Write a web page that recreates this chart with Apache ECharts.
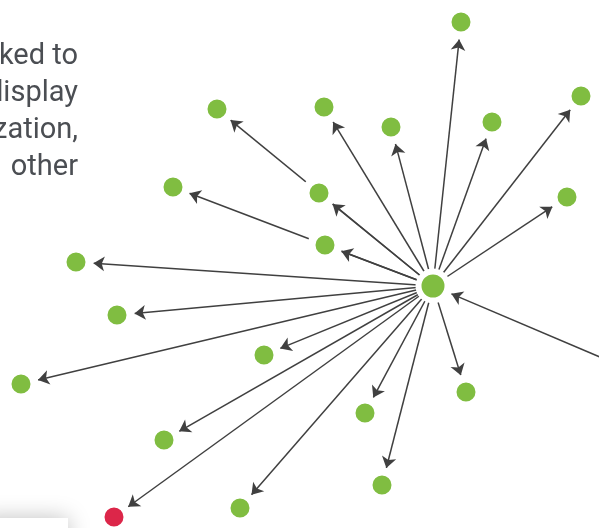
<!DOCTYPE html>
<html>
<head>
    <meta charset="utf-8">
    <title>graph</title>
    <script src="https://cdn.jsdelivr.net/npm/echarts@6/dist/echarts.min.js"></script>
    <style>
        html, body { margin: 0; padding: 0; background: #fff; }
        #chart1 { width: 599px; height: 528px; }
    </style>
</head>
<body>
<div id="chart1"></div>
<script type="text/javascript">

    // ------ data ------
    var nodeNames = ['hub', 'n1', 'n2', 'n3', 'n4', 'n5', 'n6', 'n7', 'n8', 'n9', 'n10',
        'n11', 'n12', 'n13', 'n14', 'n15', 'n16', 'n17', 'n18', 'n19', 'n20', 'ext'];
    var nodeX = [433, 461, 324, 391, 492, 581, 319, 567, 325, 217, 173,
        76, 117, 264, 21, 164, 114, 240, 466, 365, 382, 640];
    var nodeY = [286, 22, 107, 127, 122, 96, 193, 197, 245, 109, 187,
        262, 315, 355, 384, 440, 517, 508, 392, 413, 485, 374];
    var nodeKind = ['hub', 'ok', 'ok', 'ok', 'ok', 'ok', 'ok', 'ok', 'ok', 'ok', 'ok',
        'ok', 'ok', 'ok', 'ok', 'ok', 'alert', 'ok', 'ok', 'ok', 'ok', 'ok'];

    // hub points to every dot, one outside dot points back to the hub
    var edgeSource = ['hub', 'hub', 'hub', 'hub', 'hub', 'hub', 'hub', 'hub', 'hub', 'hub',
        'hub', 'hub', 'hub', 'hub', 'hub', 'hub', 'hub', 'hub', 'hub', 'hub', 'ext'];
    var edgeTarget = ['n1', 'n2', 'n3', 'n4', 'n5', 'n6', 'n7', 'n8', 'n9', 'n10',
        'n11', 'n12', 'n13', 'n14', 'n15', 'n16', 'n17', 'n18', 'n19', 'n20', 'hub'];

    var textLines = ['ked to', 'display', 'zation,', 'other'];

    // ------ styles ------
    var GREEN = '#80bd41';
    var RED = '#dc2649';
    // circle with padding inside its box, so arrow tips stop short of the dot
    var dotPath = 'path://M0 0M35 35M4 17.5A13.5 13.5 0 1 1 31 17.5A13.5 13.5 0 1 1 4 17.5Z';
    var hubPath = 'path://M0 0M40 40M5.5 20A14.5 14.5 0 1 1 34.5 20A14.5 14.5 0 1 1 5.5 20Z';

    var nodes = nodeNames.map(function (name, i) {
        var isHub = nodeKind[i] === 'hub';
        return {
            name: name,
            x: nodeX[i],
            y: nodeY[i],
            symbol: isHub ? hubPath : dotPath,
            symbolSize: isHub ? 40 : 35,
            itemStyle: {
                color: nodeKind[i] === 'alert' ? RED : GREEN,
                borderColor: '#fff',
                borderWidth: isHub ? 6 : 8
            }
        };
    });

    var links = edgeSource.map(function (s, i) {
        return {source: s, target: edgeTarget[i]};
    });

    var minX = Math.min.apply(null, nodeX), maxX = Math.max.apply(null, nodeX);
    var minY = Math.min.apply(null, nodeY), maxY = Math.max.apply(null, nodeY);

    var myChart1 = echarts.init(document.getElementById('chart1'));
    myChart1.setOption({
        animation: false,
        graphic: [
            {
                type: 'text',
                style: {
                    text: textLines.join('\n'),
                    x: 78,
                    y: 38,
                    align: 'right',
                    verticalAlign: 'top',
                    lineHeight: 37,
                    font: '400 29px Roboto',
                    fill: '#4b4e53'
                }
            },
            {
                // white card peeking in at the bottom-left
                type: 'rect',
                shape: {x: -20, y: 518, width: 88, height: 40},
                style: {
                    fill: '#fff',
                    shadowBlur: 22,
                    shadowColor: 'rgba(0,0,0,0.25)'
                }
            }
        ],
        series: [
            {
                type: 'graph',
                layout: 'none',
                left: minX,
                top: minY,
                width: maxX - minX,
                height: maxY - minY,
                roam: false,
                silent: true,
                data: nodes,
                links: links,
                edgeSymbol: ['none', 'arrow'],
                edgeSymbolSize: 11,
                lineStyle: {
                    color: '#404040',
                    width: 1.5,
                    opacity: 1,
                    curveness: 0
                },
                label: {show: false}
            }
        ]
    });
</script>
</body>
</html>
